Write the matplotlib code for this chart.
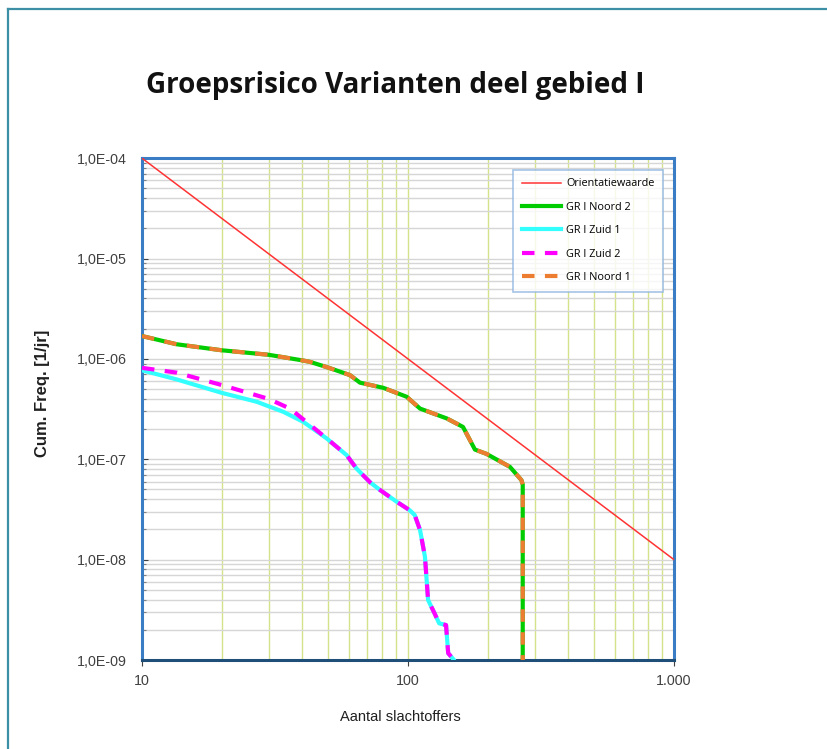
import numpy as np
import matplotlib.pyplot as plt
from matplotlib.lines import Line2D
from matplotlib.ticker import LogLocator, NullFormatter

# Orientatiewaarde: end points of the norm line
ow_n = [10, 1000]
ow_f = [1e-4, 1e-8]

# GR I Noord (Noord 1 and Noord 2 coincide)
noord2_n = [10, 13.5, 19.9, 29.9, 39.8, 42.8, 50.1, 60.5, 66, 80.8, 98.8, 111,
            140, 161, 178.5, 197.6, 241.7, 267, 270, 270]
noord2_f = [1.69e-6, 1.40e-6, 1.22e-6, 1.10e-6, 9.7e-7, 9.35e-7, 8.2e-7, 6.9e-7,
            5.8e-7, 5.15e-7, 4.2e-7, 3.2e-7, 2.55e-7, 2.1e-7, 1.25e-7, 1.13e-7,
            8.4e-8, 6.2e-8, 5.6e-8, 1e-10]
noord1_n = list(noord2_n)
noord1_f = list(noord2_f)

# GR I Zuid 1
zuid1_n = [10, 13.5, 19.9, 27, 34, 40.4, 49.5, 58.8, 64, 72, 78.6, 90.6, 101.6,
           106, 111, 115.8, 119, 125.8, 131, 139, 141.6, 149, 152]
zuid1_f = [7.7e-7, 6.25e-7, 4.6e-7, 3.74e-7, 2.97e-7, 2.36e-7, 1.61e-7, 1.10e-7,
           8.1e-8, 5.9e-8, 4.93e-8, 3.78e-8, 3.1e-8, 2.78e-8, 1.97e-8, 1.07e-8,
           3.96e-9, 2.92e-9, 2.32e-9, 2.23e-9, 1.17e-9, 1.0e-9, 8e-10]

# GR I Zuid 2 (slightly higher at small N, then on top of Zuid 1)
zuid2_n = [10, 13.5, 19.9, 29.9, 36, 42, 49.5, 58.8, 64, 72, 78.6, 90.6, 101.6,
           106, 111, 115.8, 119, 125.8, 131, 139, 141.6, 149, 152]
zuid2_f = [8.15e-7, 7.3e-7, 5.5e-7, 4.0e-7, 3.2e-7, 2.3e-7, 1.61e-7, 1.10e-7,
           8.1e-8, 5.9e-8, 4.93e-8, 3.78e-8, 3.1e-8, 2.78e-8, 1.97e-8, 1.07e-8,
           3.96e-9, 2.92e-9, 2.32e-9, 2.23e-9, 1.17e-9, 1.0e-9, 8e-10]

x_ticks = [10, 100, 1000]
x_labels = ["10", "100", "1.000"]
y_ticks = [1e-9, 1e-8, 1e-7, 1e-6, 1e-5, 1e-4]
y_labels = ["1,0E-09", "1,0E-08", "1,0E-07", "1,0E-06", "1,0E-05", "1,0E-04"]

plt.rcParams['font.family'] = ['Liberation Sans', 'DejaVu Sans']

fig = plt.figure(figsize=(8.28, 7.49), dpi=100)
ax = fig.add_axes([0.1715, 0.1188, 0.6425, 0.670])

ax.plot(ow_n, ow_f, color='#ff3333', lw=1.1, label='Orientatiewaarde', zorder=3)
ax.plot(noord2_n, noord2_f, color='#00cc00', lw=3, label='GR I Noord 2', zorder=4)
ax.plot(zuid1_n, zuid1_f, color='#33ffff', lw=3, label='GR I Zuid 1', zorder=4)
ax.plot(zuid2_n, zuid2_f, color='#ff00ff', lw=3, ls=(0, (3, 2.5)), label='GR I Zuid 2', zorder=5)
ax.plot(noord1_n, noord1_f, color='#ed7d31', lw=3, ls=(0, (3, 2.5)), label='GR I Noord 1', zorder=5)

ax.set_xscale('log')
ax.set_yscale('log')
ax.set_xlim(10, 1000)
ax.set_ylim(1e-9, 1e-4)

ax.set_xticks(x_ticks)
ax.set_xticklabels(x_labels)
ax.set_yticks(y_ticks)
ax.set_yticklabels(y_labels)
ax.xaxis.set_minor_locator(LogLocator(base=10, subs=np.arange(2, 10)))
ax.yaxis.set_minor_locator(LogLocator(base=10, subs=np.arange(2, 10)))
ax.xaxis.set_minor_formatter(NullFormatter())
ax.yaxis.set_minor_formatter(NullFormatter())

ax.tick_params(axis='x', which='major', labelsize=10.3, colors='#404040',
               length=4, width=0.8, pad=6, direction='out')
ax.tick_params(axis='y', which='major', labelsize=10.3, colors='#404040',
               length=4, width=0.8, pad=11, direction='in')
ax.tick_params(axis='x', which='minor', length=0)
ax.tick_params(axis='y', which='minor', length=3, width=0.8, direction='in', color='#808080')

ax.grid(True, axis='x', which='both', color='#d4e38a', lw=1.0, zorder=1)
ax.grid(True, axis='y', which='both', color='#d6d6d6', lw=1.0, zorder=0)

for side in ['left', 'right', 'top']:
    ax.spines[side].set_color('#3a7dc4')
    ax.spines[side].set_linewidth(2.2)
ax.spines['bottom'].set_color('#1f4e79')
ax.spines['bottom'].set_linewidth(2.2)

# axis titles placed like in the original slide
fig.text(400 / 828, 1 - 717 / 749, 'Aantal slachtoffers', ha='center', va='center',
         fontsize=10.5, color='#202020')
fig.text(42 / 828, 1 - 393 / 749, 'Cum. Freq. [1/jr]', ha='center', va='center',
         rotation=90, fontsize=12, fontweight='bold', color='#202020')

handles = [
    Line2D([], [], color='#ff3333', lw=1.1),
    Line2D([], [], color='#00cc00', lw=3),
    Line2D([], [], color='#33ffff', lw=3),
    Line2D([], [], color='#ff00ff', lw=3, ls=(0, (3, 2.5))),
    Line2D([], [], color='#ed7d31', lw=3, ls=(0, (3, 2.5))),
]
labels = ['Orientatiewaarde', 'GR I Noord 2', 'GR I Zuid 1', 'GR I Zuid 2', 'GR I Noord 1']
leg = ax.legend(handles, labels, loc='upper right', bbox_to_anchor=(0.99, 0.988),
                frameon=True, fancybox=False, labelspacing=1.15,
                handlelength=3.6, borderpad=0.8, handletextpad=0.5,
                prop={'family': ['Open Sans', 'DejaVu Sans'], 'size': 7.8})
leg.get_frame().set_edgecolor('#8db4e2')
leg.get_frame().set_linewidth(1.2)
leg.set_zorder(10)

fig.text(0.4777, 0.8865, 'Groepsrisico Varianten deel gebied I', ha='center', va='center',
         fontsize=20, fontweight='bold', family=['Open Sans', 'DejaVu Sans'], color='#111111')

# frame lines of the slide (top and left visible)
fig.add_artist(Line2D([0.0097, 1.0], [0.988, 0.988], transform=fig.transFigure,
                      color='#3d8fa5', lw=1.6))
fig.add_artist(Line2D([0.0097, 0.0097], [0.0, 0.988], transform=fig.transFigure,
                      color='#3d8fa5', lw=1.6))

plt.savefig('out.png', dpi=100)
